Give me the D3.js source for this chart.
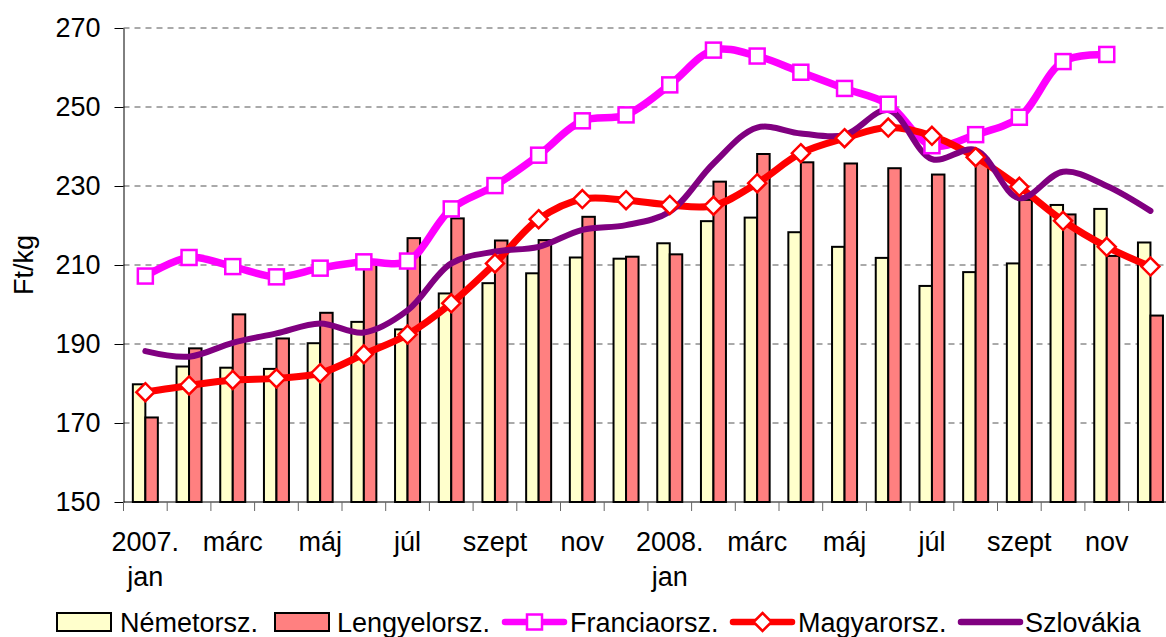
<!DOCTYPE html>
<html>
<head>
<meta charset="utf-8">
<script src="https://cdn.jsdelivr.net/npm/d3@7"></script>
<style>
  body { margin: 0; background: #fff; }
  svg { display: block; font-family: "Liberation Sans", Arial, sans-serif; }
</style>
</head>
<body>
<script>
var months = ["2007-01","2007-02","2007-03","2007-04","2007-05","2007-06","2007-07","2007-08","2007-09","2007-10","2007-11","2007-12",
              "2008-01","2008-02","2008-03","2008-04","2008-05","2008-06","2008-07","2008-08","2008-09","2008-10","2008-11","2008-12"]
var tickLabels = ["2007.|jan","","márc","","máj","","júl","","szept","","nov","",
                  "2008.|jan","","márc","","máj","","júl","","szept","","nov",""]
var yTicks = [150,170,190,210,230,250,270]

var nemet = [179.8,184.3,184.0,183.7,190.2,195.6,193.7,202.8,205.4,207.9,211.9,211.6,
             215.5,221.1,222.0,218.3,214.6,211.8,204.7,208.2,210.4,225.2,224.2,215.7]
var lengyel = [171.4,188.9,197.5,191.4,197.9,210.5,216.8,221.8,216.2,216.3,222.2,212.1,
               212.7,231.1,238.1,236.0,235.7,234.5,232.9,237.0,226.5,222.8,212.3,197.2]
var francia = [207.2,211.9,209.6,207.0,209.2,210.8,211.0,224.2,230.1,237.8,246.5,248.0,
               255.6,264.4,262.9,258.8,254.7,250.7,240.2,243.0,247.4,261.5,263.3,null]
var magyar = [177.8,179.5,180.9,181.3,182.6,187.4,192.4,200.3,210.4,221.6,226.7,226.4,
              225.2,225.0,230.7,238.3,242.1,244.8,242.7,237.3,229.8,221.2,214.6,209.6]
var szlovak = [188.2,186.8,190.3,192.7,195.2,192.9,198.5,210.4,213.4,214.6,218.9,220.1,
               223.5,235.7,244.8,243.3,242.9,249.2,236.8,239.1,226.9,233.6,230.0,223.7]

var svgWidth = 1166, svgHeight = 637
var plotLeft = 123.5, plotTop = 28, plotBottom = 502, step = 43.7
var fontSize = "27px"

var svg = d3.select("body").append("svg")
    .attr("width", svgWidth)
    .attr("height", svgHeight)

var x = d3.scaleBand().domain(months).range([plotLeft, plotLeft + step*months.length])
var y = d3.scaleLinear().domain([150,270]).range([plotBottom, plotTop])
var barW = 12.5

// grid
svg.append("g").selectAll("line")
    .data(yTicks.filter(d => d > 150))
    .enter().append("line")
    .attr("x1", plotLeft).attr("x2", svgWidth)
    .attr("y1", d => y(d)).attr("y2", d => y(d))
    .attr("stroke", "#555").attr("stroke-width", 1)
    .attr("stroke-dasharray", "6,5")

// bars
var bars = svg.append("g")
bars.selectAll(".nem").data(nemet).enter().append("rect")
    .attr("x", (d,i) => x(months[i]) + x.bandwidth()/2 - barW)
    .attr("y", d => y(d))
    .attr("width", barW)
    .attr("height", d => plotBottom - y(d))
    .attr("fill", "#FFFFCC").attr("stroke", "#000").attr("stroke-width", 2)
bars.selectAll(".len").data(lengyel).enter().append("rect")
    .attr("x", (d,i) => x(months[i]) + x.bandwidth()/2)
    .attr("y", d => y(d))
    .attr("width", barW)
    .attr("height", d => plotBottom - y(d))
    .attr("fill", "#FF8080").attr("stroke", "#000").attr("stroke-width", 2)

// axes
var yAxis = d3.axisLeft(y).tickValues(yTicks).tickSize(9).tickSizeOuter(0).tickPadding(14)
var gy = svg.append("g").attr("transform", "translate(" + plotLeft + ",0)").call(yAxis)
gy.selectAll("text").style("font-size", fontSize).attr("fill", "#000")
gy.select(".domain").attr("stroke", "#000")

svg.append("line")
    .attr("x1", plotLeft).attr("x2", svgWidth)
    .attr("y1", plotBottom).attr("y2", plotBottom)
    .attr("stroke", "#000").attr("stroke-width", 1)

var edges = months.map(d => x(d)).concat([x.range()[1]])
svg.append("g").selectAll("line")
    .data(edges).enter().append("line")
    .attr("x1", d => d).attr("x2", d => d)
    .attr("y1", plotBottom).attr("y2", plotBottom + 9)
    .attr("stroke", "#666").attr("stroke-width", 1)

var lbl = svg.append("g").selectAll("text")
    .data(tickLabels.map((t,i) => ({t: t, m: months[i]})).filter(d => d.t))
    .enter().append("text")
    .attr("text-anchor", "middle")
    .style("font-size", fontSize)
lbl.each(function(d){
    var parts = d.t.split("|")
    var el = d3.select(this)
    parts.forEach((p,j) => {
        el.append("tspan")
          .attr("x", x(d.m) + x.bandwidth()/2)
          .attr("y", 551 + j*35)
          .text(p)
    })
})

svg.append("text")
    .attr("transform", "translate(33," + ((plotTop+plotBottom)/2) + ") rotate(-90)")
    .attr("text-anchor", "middle")
    .style("font-size", fontSize)
    .text("Ft/kg")

// lines
var cx = (d,i) => x(months[i]) + x.bandwidth()/2
var line = d3.line().defined(d => d != null).x(cx).y(d => y(d)).curve(d3.curveCatmullRom.alpha(0.5))

svg.append("path").datum(francia).attr("d", line)
    .attr("fill", "none").attr("stroke", "#FF00FF").attr("stroke-width", 7.5)
svg.append("path").datum(magyar).attr("d", line)
    .attr("fill", "none").attr("stroke", "#FF0000").attr("stroke-width", 7)
svg.append("path").datum(szlovak).attr("d", line)
    .attr("fill", "none").attr("stroke", "#800080").attr("stroke-width", 6)
    .attr("stroke-linecap", "round")

// markers
svg.append("g").selectAll("rect")
    .data(francia.map((d,i) => ({v: d, i: i})).filter(d => d.v != null))
    .enter().append("rect")
    .attr("x", d => cx(d.v, d.i) - 7.5)
    .attr("y", d => y(d.v) - 7.5)
    .attr("width", 15).attr("height", 15)
    .attr("fill", "#fff").attr("stroke", "#FF00FF").attr("stroke-width", 2.5)

var diamond = "M0,-9L9,0L0,9L-9,0Z"
svg.append("g").selectAll("path")
    .data(magyar).enter().append("path")
    .attr("d", diamond)
    .attr("transform", (d,i) => "translate(" + cx(d,i) + "," + y(d) + ")")
    .attr("fill", "#fff").attr("stroke", "#FF0000").attr("stroke-width", 2.5)

// legend
var legY = 622
var legend = [
    {name: "Németorsz.", type: "bar", fill: "#FFFFCC", sx: 57, tx: 120},
    {name: "Lengyelorsz.", type: "bar", fill: "#FF8080", sx: 275, tx: 337},
    {name: "Franciaorsz.", type: "line", color: "#FF00FF", marker: "square", sx: 505, tx: 570},
    {name: "Magyarorsz.", type: "line", color: "#FF0000", marker: "diamond", sx: 733, tx: 798},
    {name: "Szlovákia", type: "line", color: "#800080", sx: 961, tx: 1025}
]
var lg = svg.append("g")
legend.forEach(d => {
    if (d.type == "bar") {
        lg.append("rect").attr("x", d.sx).attr("y", legY - 9).attr("width", 54).attr("height", 18)
          .attr("fill", d.fill).attr("stroke", "#000").attr("stroke-width", 2)
    } else {
        lg.append("line").attr("x1", d.sx).attr("x2", d.sx + 59).attr("y1", legY).attr("y2", legY)
          .attr("stroke", d.color).attr("stroke-width", 6.5).attr("stroke-linecap", "round")
        var mx = d.sx + 29.5
        if (d.marker == "square") {
            lg.append("rect").attr("x", mx - 7.5).attr("y", legY - 7.5).attr("width", 15).attr("height", 15)
              .attr("fill", "#fff").attr("stroke", d.color).attr("stroke-width", 2.5)
        } else if (d.marker == "diamond") {
            lg.append("path").attr("d", diamond).attr("transform", "translate(" + mx + "," + legY + ")")
              .attr("fill", "#fff").attr("stroke", d.color).attr("stroke-width", 2.5)
        }
    }
    lg.append("text").attr("x", d.tx).attr("y", legY + 10)
      .style("font-size", fontSize).text(d.name)
})
</script>
</body>
</html>
